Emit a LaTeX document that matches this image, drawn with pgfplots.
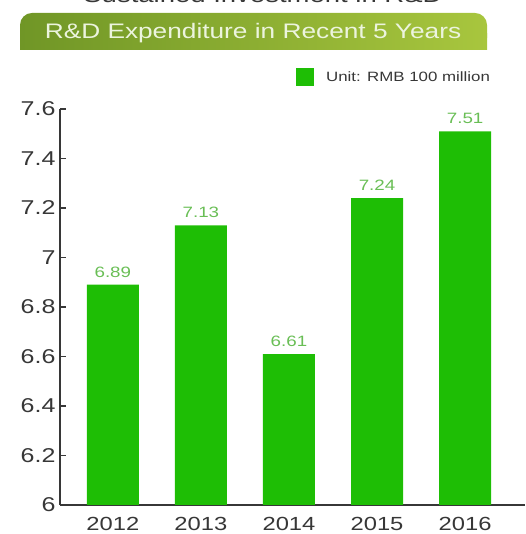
\documentclass[border=0pt]{standalone}
\usepackage{pgfplots}
\pgfplotsset{compat=1.18}
\usepackage{fontspec}
\setmainfont[FakeStretch=1.25]{Liberation Sans}
\definecolor{barcol}{RGB}{30,190,5}
\definecolor{labcol}{RGB}{105,190,85}
\definecolor{axcol}{RGB}{55,55,55}
\definecolor{banL}{RGB}{112,150,38}
\definecolor{banR}{RGB}{168,198,62}
\definecolor{bantext}{RGB}{236,244,222}
\begin{document}
\begin{tikzpicture}[x=1pt,y=1pt]
\useasboundingbox (0,0) rectangle (525,534);
% heading above the banner, cut by the top edge as in the original
\node[anchor=base, text=axcol, font=\fontsize{22}{26}\selectfont] at (263,531) {Sustained Investment in R\&D};
% banner
\shade[left color=banL, right color=banR, rounded corners=12pt]
  (20,484) -- (20,521) -- (487,521) -- (487,484) -- cycle;
\fill[left color=banL, right color=banR] (20,484) rectangle (487,500);
\node[text=bantext, font=\fontsize{21}{25}\selectfont] at (253,501) {R\&D Expenditure in Recent 5 Years};
\begin{axis}[
  at={(60pt,29pt)}, anchor=south west,
  scale only axis,
  width=465pt, height=396pt,
  xmin=-0.6, xmax=4.68,
  ymin=6, ymax=7.6,
  ytick={6,6.2,6.4,6.6,6.8,7,7.2,7.4,7.6},
  xtick={0,1,2,3,4},
  xticklabels={2012,2013,2014,2015,2016},
  axis lines=left,
  axis line style={axcol, line width=1.3pt, -},
  major tick length=6pt,
  y tick style={axcol, line width=1.3pt},
  tick align=inside,
  x tick style={draw=none},
  ytick pos=left,
  /pgf/number format/assume math mode=true,
  yticklabel style={font=\fontsize{20}{24}\selectfont, text=axcol, xshift=-1pt},
  xticklabel style={font=\fontsize{19}{23}\selectfont, text=axcol, yshift=-3pt},
  ybar, bar width=52pt,
  nodes near coords,
  every node near coord/.append style={font=\fontsize{15}{18}\selectfont, text=labcol, yshift=4pt},
  legend style={draw=none, fill=none, at={(0.501,1.081)}, anchor=west,
    font=\fontsize{13.5}{16}\selectfont, text=axcol},
  legend image code/.code={\fill[barcol] (0pt,-9pt) rectangle (18pt,9pt);},
  legend cell align=left,
]
\addplot[fill=barcol, draw=none] coordinates {
  (0,6.89) (1,7.13) (2,6.61) (3,7.24) (4,7.51)
};
\legend{\hspace{10pt}Unit: RMB 100 million}
\end{axis}
\end{tikzpicture}
\end{document}
